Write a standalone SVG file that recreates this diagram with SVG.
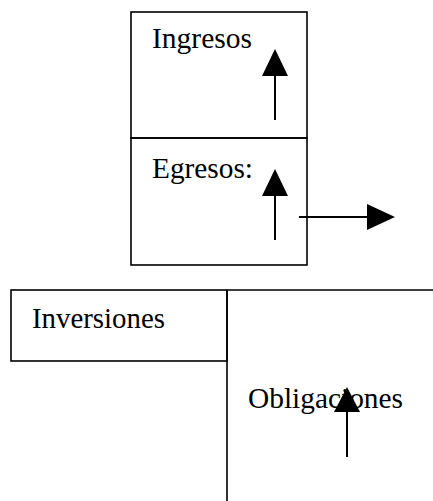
<svg xmlns="http://www.w3.org/2000/svg" width="433" height="501" viewBox="0 0 433 501">
<style>
.box{fill:none;stroke:#000;stroke-width:1.6}
.t{font-family:"Liberation Serif","Times New Roman",serif;font-size:30px;fill:#000}
.sh{stroke:#000;stroke-width:2;fill:none}
.hd{fill:#000}
</style>
<rect width="433" height="501" fill="#fff"/>
<g id="ingresos">
<rect class="box" x="131" y="12" width="176" height="126"/>
<text class="t" x="152" y="48" textLength="100" lengthAdjust="spacingAndGlyphs">Ingresos</text>
</g>
<g id="egresos">
<rect class="box" x="131" y="138" width="176" height="127"/>
<text class="t" x="152" y="178" textLength="101" lengthAdjust="spacingAndGlyphs">Egresos:</text>
</g>
<g id="inversiones">
<rect class="box" x="11" y="290" width="216" height="71"/>
<text class="t" x="32" y="328" textLength="133" lengthAdjust="spacingAndGlyphs">Inversiones</text>
</g>
<g id="obligaciones">
<path class="box" d="M227 290 H433 M227 290 V501"/>
<text class="t" x="248" y="408" textLength="155" lengthAdjust="spacingAndGlyphs">Obligaciones</text>
</g>
<g id="connectors">
<line class="sh" x1="275" y1="120" x2="275" y2="74"/>
<polygon class="hd" points="275,49 262,76 288,76"/>
<line class="sh" x1="275" y1="240" x2="275" y2="194"/>
<polygon class="hd" points="275,169 262,196 288,196"/>
<line class="sh" x1="299" y1="217" x2="369" y2="217"/>
<polygon class="hd" points="395,217 367,204 367,230"/>
<line class="sh" x1="347" y1="457" x2="347" y2="410"/>
<polygon class="hd" points="347,387 334,412 360,412"/>
</g>
</svg>
